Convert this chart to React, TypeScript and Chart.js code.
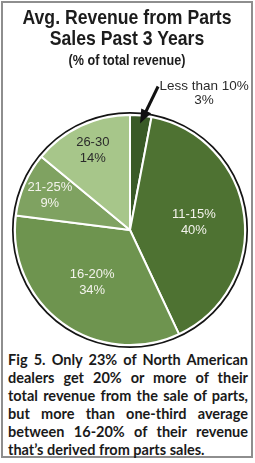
import React, { useEffect, useRef } from "react";
import { Chart, registerables } from "chart.js";

Chart.register(...registerables);

const categories = ["Less than 10%", "11-15%", "16-20%", "21-25%", "26-30"];
const shares = [3, 40, 34, 9, 14];
const sliceColors = ["#3a5a27", "#4e7232", "#6e944f", "#7fa261", "#a7c68a"];
const labelColors = ["#ffffff", "#f3f3ec", "#f3f3ec", "#f3f3ec", "#2b2b2b"];
const titleLines = ["Avg. Revenue from Parts", "Sales Past 3 Years"];
const subtitleText = "(% of total revenue)";
const captionLines = [
  "Fig 5. Only 23% of North American",
  "dealers get 20% or more of their",
  "total revenue from the sale of parts,",
  "but more than one-third average",
  "between 16-20% of their revenue",
  "that\u2019s derived from parts sales.",
];

const pieDecor = {
  id: "pieDecor",
  afterDatasetsDraw(chart: any) {
    const meta = chart.getDatasetMeta(0);
    const ctx = chart.ctx as CanvasRenderingContext2D;
    const first = meta.data[0].getProps(["x", "y", "outerRadius", "startAngle", "endAngle"], true);
    ctx.save();
    // outer black ring
    ctx.beginPath();
    ctx.arc(first.x, first.y, first.outerRadius + 2.2, 0, Math.PI * 2);
    ctx.strokeStyle = "#141414";
    ctx.lineWidth = 1.7;
    ctx.stroke();

    // inside labels
    ctx.textAlign = "center";
    ctx.textBaseline = "middle";
    ctx.font = "13px 'Liberation Sans', Arial, sans-serif";
    meta.data.forEach((el: any, i: number) => {
      if (i === 0) return;
      const p = el.getProps(["x", "y", "outerRadius", "startAngle", "endAngle"], true);
      const mid = (p.startAngle + p.endAngle) / 2;
      const frac = shares[i] >= 20 ? 0.56 : 0.76;
      const lx = p.x + Math.cos(mid) * p.outerRadius * frac;
      const ly = p.y + Math.sin(mid) * p.outerRadius * frac;
      ctx.fillStyle = labelColors[i];
      ctx.fillText(categories[i], lx, ly - 8);
      ctx.fillText(shares[i] + "%", lx, ly + 8);
    });

    // arrow callout for the smallest slice
    const mid0 = (first.startAngle + first.endAngle) / 2;
    const tipX = first.x + Math.cos(mid0) * first.outerRadius * 0.93;
    const tipY = first.y + Math.sin(mid0) * first.outerRadius * 0.93;
    const tailX = tipX + 18;
    const tailY = tipY - 37;
    const dx = tipX - tailX;
    const dy = tipY - tailY;
    const len = Math.hypot(dx, dy);
    const ux = dx / len;
    const uy = dy / len;
    const headLen = 14;
    const headW = 5.5;
    const baseX = tipX - ux * headLen;
    const baseY = tipY - uy * headLen;
    ctx.strokeStyle = "#111";
    ctx.lineWidth = 3;
    ctx.beginPath();
    ctx.moveTo(tailX, tailY);
    ctx.lineTo(baseX + ux * 2, baseY + uy * 2);
    ctx.stroke();
    ctx.fillStyle = "#111";
    ctx.beginPath();
    ctx.moveTo(tipX, tipY);
    ctx.lineTo(baseX - uy * headW, baseY + ux * headW);
    ctx.lineTo(baseX + uy * headW, baseY - ux * headW);
    ctx.closePath();
    ctx.fill();

    ctx.fillStyle = "#2b2b2b";
    ctx.font = "13.5px 'Liberation Sans', Arial, sans-serif";
    ctx.textBaseline = "alphabetic";
    ctx.fillText(categories[0], tailX + 46, tailY + 3);
    ctx.fillText(shares[0] + "%", tailX + 46, tailY + 17);
    ctx.restore();
  },
};

export default function App() {
  const canvasRef = useRef<HTMLCanvasElement | null>(null);

  useEffect(() => {
    if (!canvasRef.current) return;
    const chart = new Chart(canvasRef.current, {
      type: "pie",
      data: {
        labels: categories,
        datasets: [
          {
            data: shares,
            backgroundColor: sliceColors,
            borderColor: "#ffffff",
            borderWidth: 2,
          },
        ],
      },
      options: {
        animation: false,
        responsive: false,
        devicePixelRatio: 1,
        layout: { padding: { left: 14, right: 9, top: 114, bottom: 4 } },
        plugins: {
          legend: { display: false },
          tooltip: { enabled: false },
          title: { display: false },
        },
      },
      plugins: [pieDecor],
    });
    return () => chart.destroy();
  }, []);

  return (
    <div
      style={{
        position: "absolute",
        left: 0,
        top: 0,
        width: 255,
        height: 463,
        background: "#ffffff",
        overflow: "hidden",
      }}
    >
      <div
        style={{
          position: "absolute",
          left: 1,
          top: 1,
          width: 252,
          height: 457,
          boxSizing: "border-box",
          border: "2px solid #8e8e8e",
        }}
      />
      <canvas
        ref={canvasRef}
        width={255}
        height={350}
        style={{ position: "absolute", left: 0, top: 0, width: 255, height: 350 }}
      />
      <div
        style={{
          position: "absolute",
          left: 0,
          top: 6,
          width: 254,
          textAlign: "center",
          fontFamily: "'Liberation Sans', Arial, sans-serif",
          fontWeight: 700,
          color: "#1c1c1c",
        }}
      >
        {titleLines.map((t) => (
          <div key={t} style={{ fontSize: 20.5, lineHeight: "21px", transform: "scaleX(0.86)" }}>
            {t}
          </div>
        ))}
        <div style={{ fontSize: 14, lineHeight: "18px", marginTop: 3, transform: "scaleX(0.9)" }}>
          {subtitleText}
        </div>
      </div>
      <div
        style={{
          position: "absolute",
          left: 8,
          top: 351,
          width: 240,
          fontFamily: "Lato, 'Open Sans', sans-serif",
          fontWeight: 700,
          fontSize: 14.5,
          lineHeight: "18px",
          color: "#1a1a1a",
        }}
      >
        {captionLines.map((line, i) => (
          <div
            key={i}
            style={{
              whiteSpace: "nowrap",
              textAlign: i < captionLines.length - 1 ? "justify" : "left",
              textAlignLast: i < captionLines.length - 1 ? "justify" : "left",
            }}
          >
            {line}
          </div>
        ))}
      </div>
    </div>
  );
}
